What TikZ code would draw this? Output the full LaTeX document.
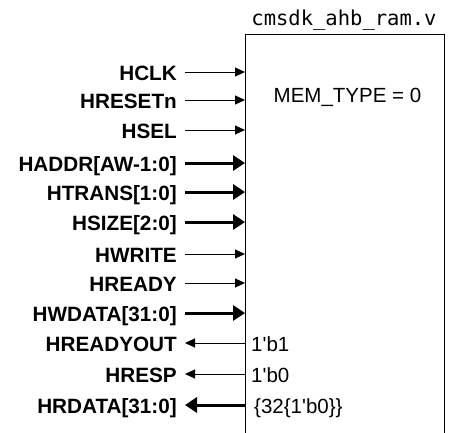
\documentclass[tikz,border=0pt]{standalone}
\usepackage{fontspec}
\setmainfont{Liberation Sans}
\newfontfamily\monofont{DejaVu Sans Mono}
\usetikzlibrary{arrows.meta}
\begin{document}
\begin{tikzpicture}[x=1pt,y=-1pt,
  sig/.style={font=\fontsize{20.7}{22}\selectfont\bfseries, anchor=east, inner sep=0pt, text height=14.8pt, text depth=0pt},
  val/.style={font=\fontsize{20.5}{22}\selectfont, anchor=west, inner sep=0pt, text height=14.7pt, text depth=0pt},
  thin/.style={line width=1pt, -{Triangle[length=10pt,width=9pt]}},
  thick/.style={line width=3pt, -{Triangle[length=12pt,width=15pt]}},
  thinout/.style={line width=1pt, -{Triangle[length=10pt,width=9pt]}},
  thickout/.style={line width=3pt, -{Triangle[length=12pt,width=15pt]}}]
\useasboundingbox (0,0) rectangle (453,432);
\draw[line width=1pt] (444,440) -- (444,34) -- (245,34) -- (245,440);
\node[font=\monofont\fontsize{20.5}{22}\selectfont, inner sep=0pt, anchor=base] (title) at (344,25) {cmsdk\_ahb\_ram.v};
\node[val, anchor=center] (mt) at (347.5,95) {MEM\_TYPE = 0};
% inputs
\foreach \nm/\lab/\y/\st in {hclk/HCLK/72/thin, hresetn/HRESETn/100/thin, hsel/HSEL/130/thin,
  haddr/{HADDR[AW-1:0]}/163/thick, htrans/{HTRANS[1:0]}/192/thick, hsize/{HSIZE[2:0]}/222/thick,
  hwrite/HWRITE/254/thin, hready/HREADY/283/thin, hwdata/{HWDATA[31:0]}/313/thick}{
  \node[sig] (\nm) at (177,\y+1) {\lab};
  \coordinate (\nm-s) at (185,\y);
  \coordinate (\nm-e) at (245,\y);
  \draw[\st] (\nm-s) -- (\nm-e);
}
% outputs
\foreach \nm/\lab/\val/\y/\st/\vx in {hreadyout/HREADYOUT/{1\textquotesingle b1}/343/thinout/251, hresp/HRESP/{1\textquotesingle b0}/374/thinout/251, hrdata/{HRDATA[31:0]}/{\{32\{1\textquotesingle b0\}\}}/405/thickout/254}{
  \node[sig] (\nm) at (177,\y+1) {\lab};
  \coordinate (\nm-s) at (245,\y);
  \coordinate (\nm-e) at (185,\y);
  \draw[\st] (\nm-s) -- (\nm-e);
  \node[val] (\nm-v) at (\vx,\y+1) {\val};
}
\end{tikzpicture}
\end{document}
